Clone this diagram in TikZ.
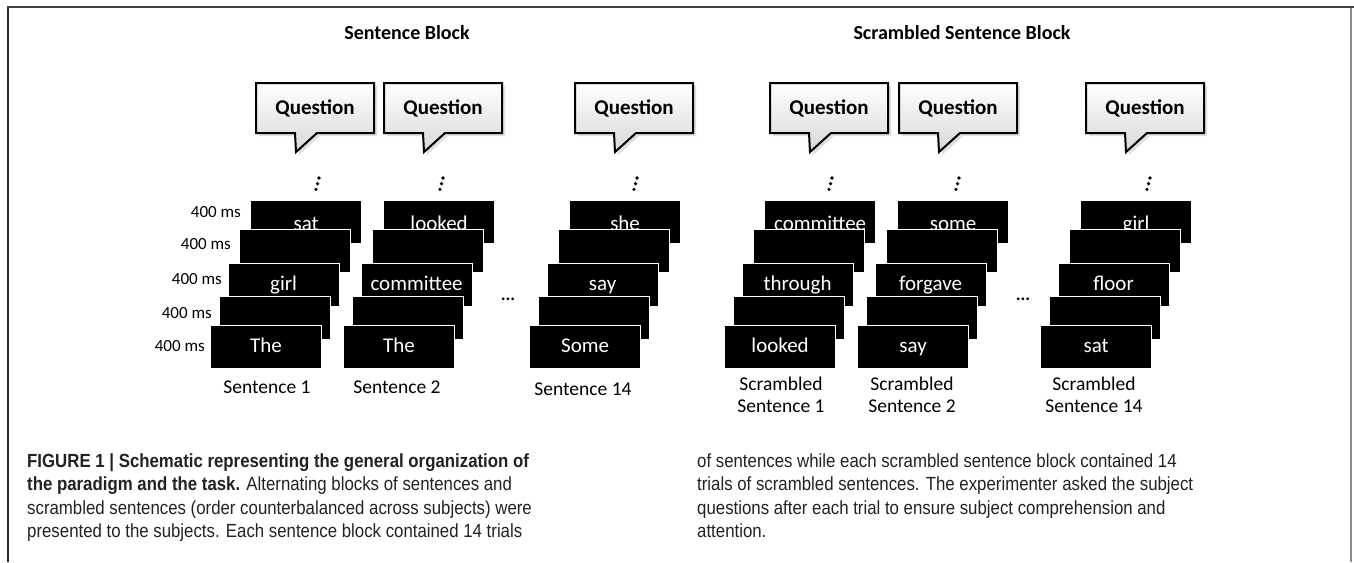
\documentclass[tikz,border=0pt]{standalone}
\usepackage{fontspec}
\newfontfamily\calfont{Carlito}
\newfontfamily\capfont[FakeStretch=0.885]{Liberation Sans}
\usetikzlibrary{shadows}
\definecolor{captxt}{HTML}{222222}
\definecolor{bubblebot}{HTML}{D8D8D8}
\tikzset{
  wbox/.style={fill=black, draw=white, line width=1.2pt, minimum width=111pt,
    minimum height=43pt, inner sep=0pt, anchor=north west, text=white,
    font=\calfont\fontsize{21}{21}\selectfont, text height=15pt, text depth=3.6pt},
  topbox/.style={wbox, text height=18pt, text depth=0.6pt},
  bubblesty/.style={draw=black, line width=2pt, line join=miter, top color=white,
    bottom color=bubblebot,
    drop shadow={opacity=0.25, shadow xshift=3pt, shadow yshift=-3pt, fill=gray}},
  qtext/.style={font=\calfont\bfseries\fontsize{21}{21}\selectfont, inner sep=0pt},
  title/.style={font=\calfont\bfseries\fontsize{20}{20}\selectfont, inner sep=0pt},
  mslabel/.style={font=\calfont\fontsize{17}{17}\selectfont, inner sep=0pt, anchor=east},
  slabel/.style={font=\calfont\fontsize{19.5}{22}\selectfont, inner sep=0pt, align=center},
  ell/.style={font=\calfont\bfseries\fontsize{18}{18}\selectfont, inner sep=0pt},
  capline/.style={font=\capfont\fontsize{19}{19}\selectfont, text=captxt, inner sep=0pt, anchor=base west},
  frameline/.style={line width=1.6pt}
}
\newcommand\wordstack[7]{%
  \node[topbox] (#1-1) at (#2+40,200) {#3};
  \node[wbox] (#1-2) at (#2+29,229) {#4};
  \node[wbox] (#1-3) at (#2+17.5,263) {#5};
  \node[wbox] (#1-4) at (#2+9,296) {#6};
  \node[wbox] (#1-5) at (#2,325) {#7};
}
\newcommand\qbubble[2]{%
  \path[bubblesty] (#2,83) -- (#2+118,83) -- (#2+118,133) -- (#2+61,133)
     -- (#2+40,152) -- (#2+39,133) -- (#2,133) -- cycle;
  \node[qtext] (#1) at (#2+59,108) {Question};
}
\newcommand\vdotsat[3]{%
  \fill (#2,#3) circle (1.8pt);
  \fill (#2-1.5,#3+5.7) circle (1.8pt);
  \fill (#2-3,#3+11.4) circle (1.8pt);
  \coordinate (#1) at (#2-1.5,#3+5.7);
}
\begin{document}
\begin{tikzpicture}[x=1pt,y=-1pt]
\useasboundingbox (0,0) rectangle (1354,562);
\fill[white] (0,0) rectangle (1354,562);
% frame
\draw[frameline, draw=black!75] (7,7) -- (1354,7);
\draw[frameline, draw=black!85] (8,7.8) -- (8,562);
\draw[frameline, draw=black!45] (1351,7.8) -- (1351,562);

% titles
\node[title] (t1) at (407,33) {Sentence Block};
\node[title] (t2) at (962,33) {Scrambled Sentence Block};

% bubbles
\qbubble{q1}{256}
\qbubble{q2}{384}
\qbubble{q3}{575}
\qbubble{q4}{770}
\qbubble{q5}{899}
\qbubble{q6}{1086}

% vertical dots
\vdotsat{d1}{319}{178}
\vdotsat{d2}{443}{178}
\vdotsat{d3}{637}{178}
\vdotsat{d4}{832}{178}
\vdotsat{d5}{959}{178}
\vdotsat{d6}{1150}{178}

% stacks
\wordstack{s1}{210}{sat}{}{girl}{}{The}
\wordstack{s2}{343}{looked}{}{committee}{}{The}
\wordstack{s3}{529}{she}{}{say}{}{Some}
\wordstack{r1}{724}{committee}{}{through}{}{looked}
\wordstack{r2}{857}{some}{}{forgave}{}{say}
\wordstack{r3}{1040}{girl}{}{floor}{}{sat}

% timing labels
\node[mslabel] (m1) at (241,212) {400 ms};
\node[mslabel] (m2) at (231,244) {400 ms};
\node[mslabel] (m3) at (222,279) {400 ms};
\node[mslabel] (m4) at (212,313) {400 ms};
\node[mslabel] (m5) at (205,346) {400 ms};

% ellipses
\node[ell] (e1) at (508,299) {...};
\node[ell] (e2) at (1023,299) {...};

% stack labels
\node[slabel] (l1) at (267,387) {Sentence 1};
\node[slabel] (l2) at (397,387) {Sentence 2};
\node[slabel] (l3) at (583,389) {Sentence 14};
\node[slabel] (l4) at (781,395) {Scrambled\\Sentence 1};
\node[slabel] (l5) at (912,395) {Scrambled\\Sentence 2};
\node[slabel] (l6) at (1094,395) {Scrambled\\Sentence 14};

% caption
\node[capline] (c1) at (27,467) {\bfseries FIGURE 1 | Schematic representing the general organization of};
\node[capline] (c2) at (27,490.5) {\bfseries the paradigm and the task.\mdseries{} Alternating blocks of sentences and};
\node[capline] (c3) at (27,514) {scrambled sentences (order counterbalanced across subjects) were};
\node[capline] (c4) at (27,537.5) {presented to the subjects. Each sentence block contained 14 trials};
\node[capline] (c5) at (697,467) {of sentences while each scrambled sentence block contained 14};
\node[capline] (c6) at (697,490.5) {trials of scrambled sentences. The experimenter asked the subject};
\node[capline] (c7) at (697,514) {questions after each trial to ensure subject comprehension and};
\node[capline] (c8) at (697,537.5) {attention.};
\end{tikzpicture}
\end{document}
